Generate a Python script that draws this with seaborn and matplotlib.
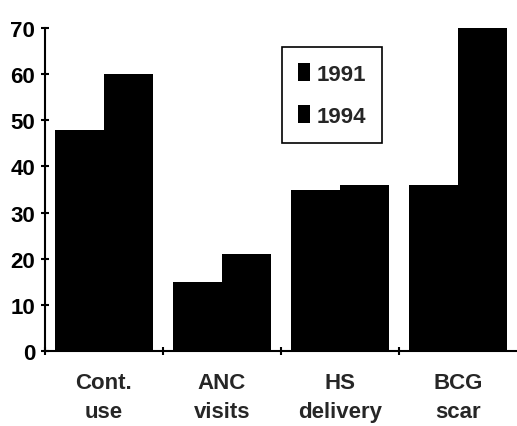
import matplotlib
matplotlib.use("Agg")
import matplotlib.pyplot as plt
import seaborn as sns
import pandas as pd
from matplotlib.ticker import FixedLocator

categories = ["Cont.\nuse", "ANC\nvisits", "HS\ndelivery", "BCG\nscar"]
values_1991 = [48, 15, 35, 36]
values_1994 = [60, 21, 36, 70]
years = ["1991", "1994"]
y_ticks = [0, 10, 20, 30, 40, 50, 60, 70]

df = pd.DataFrame({
    "category": categories * 2,
    "value": values_1991 + values_1994,
    "year": [years[0]] * 4 + [years[1]] * 4,
})

sns.set_style("ticks")
plt.rcParams["font.family"] = ["Liberation Sans", "DejaVu Sans"]
plt.rcParams["font.weight"] = "bold"

fig = plt.figure(figsize=(5.17, 4.27), dpi=100)
W, H = 517, 427
ax = fig.add_axes([45 / W, 75 / H, 472 / W, 323 / H])

sns.barplot(data=df, x="category", y="value", hue="year",
            palette=["black", "black"], width=0.83, ax=ax,
            edgecolor="black", linewidth=0, saturation=1)

ax.set_xlim(-0.5, 3.5)
ax.set_ylim(0, 70)
ax.set_yticks(y_ticks)
ax.set_xlabel("")
ax.set_ylabel("")

for s in ["top", "right"]:
    ax.spines[s].set_visible(False)
for s in ["left", "bottom"]:
    ax.spines[s].set_linewidth(1.5)
    ax.spines[s].set_color("black")

fs = 16
ax.tick_params(axis="y", direction="inout", length=6, width=1.5, pad=4,
               labelsize=fs, colors="black")
ax.tick_params(axis="x", which="major", length=0, pad=15, labelsize=fs)
ax.xaxis.set_minor_locator(FixedLocator([-0.5, 0.5, 1.5, 2.5]))
ax.tick_params(axis="x", which="minor", direction="inout", length=6, width=1.5,
               colors="black")
for lab in ax.get_xticklabels():
    lab.set_linespacing(1.5)
    lab.set_fontweight("bold")
for lab in ax.get_yticklabels():
    lab.set_fontweight("bold")

handles, labels = ax.get_legend_handles_labels()
if ax.get_legend() is not None:
    ax.get_legend().remove()
leg = ax.legend(handles, years, loc="upper left",
                bbox_to_anchor=(282 / W, 1 - 48 / H), bbox_transform=fig.transFigure,
                frameon=True, fancybox=False, edgecolor="black", framealpha=1,
                prop={"size": fs, "weight": "bold"},
                handlelength=0.55, handleheight=0.9, handletextpad=0.3,
                labelspacing=0.9, borderpad=0.72, borderaxespad=0)
leg.get_frame().set_linewidth(1.2)

fig.savefig("out.png", dpi=100)
